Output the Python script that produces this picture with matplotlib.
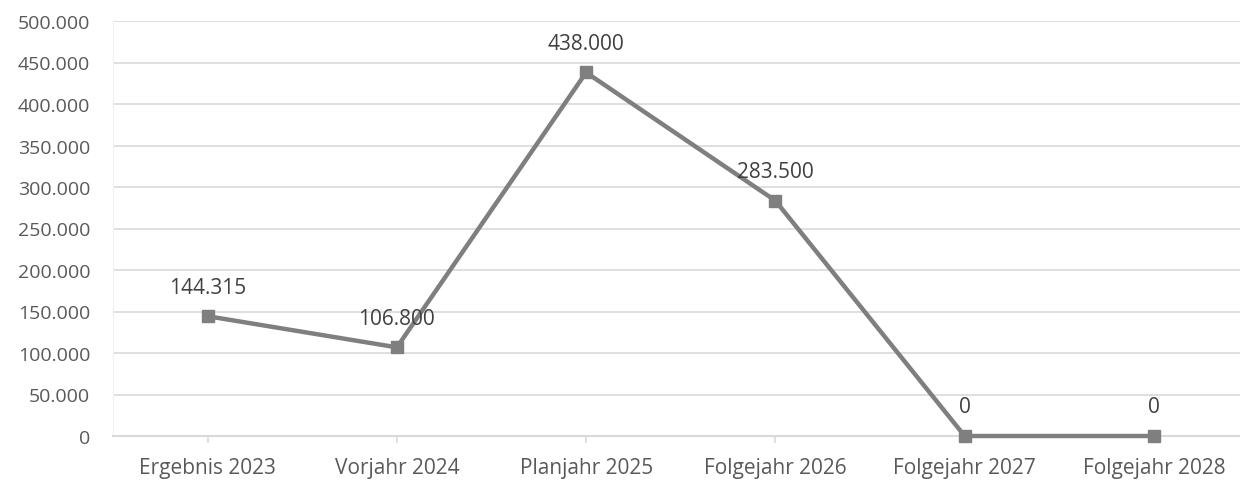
import matplotlib.pyplot as plt
from matplotlib.ticker import FuncFormatter, MultipleLocator

# Daten
kategorien = ["Ergebnis 2023", "Vorjahr 2024", "Planjahr 2025",
              "Folgejahr 2026", "Folgejahr 2027", "Folgejahr 2028"]
werte = [144315, 106800, 438000, 283500, 0, 0]


def de_format(v, pos=None):
    # deutsches Tausendertrennzeichen
    return "{:,.0f}".format(v).replace(",", ".")


plt.rcParams['font.family'] = ['Open Sans', 'DejaVu Sans']

fig = plt.figure(figsize=(12.4, 4.81), dpi=100)
ax = fig.add_axes([113 / 1240, 1 - 437 / 481, 1 - 113 / 1240, (437 - 22) / 481])

x = list(range(len(kategorien)))
ax.plot(x, werte, color="#7f7f7f", linewidth=3.2, marker="s", markersize=8.5,
        zorder=3, clip_on=False)

# Datenbeschriftungen über den Punkten
for xi, v in zip(x, werte):
    ax.annotate(de_format(v), (xi, v), xytext=(0, 17), textcoords="offset points",
                ha="center", va="baseline", fontsize=15, color="#404040")

ax.set_xlim(-0.5, 5.455)
ax.set_ylim(0, 500000)
ax.yaxis.set_major_locator(MultipleLocator(50000))
ax.yaxis.set_major_formatter(FuncFormatter(de_format))
ax.set_xticks(x)
ax.set_xticklabels(kategorien)

ax.grid(axis="y", color="#d9d9d9", linewidth=1.2)
ax.set_axisbelow(True)
for s in ["top", "right"]:
    ax.spines[s].set_visible(False)
ax.spines["left"].set_color("#f0f0f0")
ax.spines["bottom"].set_color("#d9d9d9")
ax.spines["bottom"].set_linewidth(1.5)

ax.tick_params(axis="y", length=0, pad=16.5, labelsize=14, labelcolor="#595959")
ax.tick_params(axis="x", length=5, width=1.2, color="#d9d9d9", pad=10,
               labelsize=15, labelcolor="#595959")

fig.savefig("out.png", dpi=100)
